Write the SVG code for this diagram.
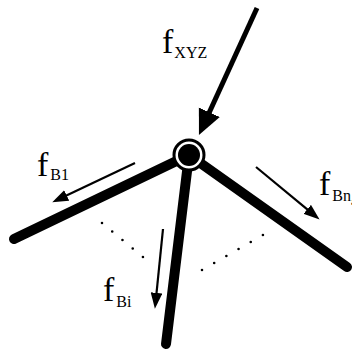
<svg xmlns="http://www.w3.org/2000/svg" width="352" height="352" viewBox="0 0 352 352">
<style>
.bar{stroke:#000;stroke-width:10;stroke-linecap:round;fill:none}
.big{stroke:#000;stroke-width:5;fill:none}
.thin{stroke:#000;stroke-width:2.2;fill:none}
.dots{stroke:#000;stroke-width:2.6;stroke-linecap:round;fill:none}
text{font-family:"Liberation Serif","DejaVu Serif",serif;font-size:34px;fill:#000}
.sub{font-size:16px}
.subsub{font-size:11px}
</style>
<defs>
<marker id="bigHead" markerUnits="userSpaceOnUse" markerWidth="26" markerHeight="24" refX="3" refY="11.5" orient="auto" viewBox="0 0 26 23">
<path d="M0,0 L25,11.5 L0,23 z" fill="#000"/>
</marker>
<marker id="smallHead" markerUnits="userSpaceOnUse" markerWidth="16" markerHeight="12" refX="3" refY="5.5" orient="auto" viewBox="0 0 15 11">
<path d="M0,0 L15,5.5 L0,11 z" fill="#000"/>
</marker>
</defs>
<rect width="352" height="352" fill="#fff"/>
<g id="connectors">
<line class="bar" x1="14" y1="239" x2="189" y2="155"/>
<line class="bar" x1="189" y1="155" x2="347" y2="267"/>
<line class="bar" x1="189" y1="155" x2="166" y2="344"/>
<line class="big" x1="257" y1="8" x2="208.1" y2="115" marker-end="url(#bigHead)"/>
<line class="thin" x1="135" y1="163" x2="63.8" y2="196.8" marker-end="url(#smallHead)"/>
<line class="thin" x1="256" y1="167" x2="309.7" y2="211.4" marker-end="url(#smallHead)"/>
<line class="thin" x1="163" y1="229" x2="156.2" y2="296.1" marker-end="url(#smallHead)"/>
<line class="dots" x1="102" y1="223" x2="143" y2="257" stroke-dasharray="0 13.3"/>
<line class="dots" x1="202" y1="270" x2="263" y2="235" stroke-dasharray="0 14.05"/>
</g>
<g id="node">
<circle cx="189" cy="155" r="15" fill="#fff" stroke="#000" stroke-width="3"/>
<circle cx="189" cy="155" r="11" fill="#000"/>
</g>
<g id="labels">
<text id="fXYZ" x="162" y="53">f<tspan class="sub" dy="5" dx="1">XYZ</tspan></text>
<text id="fB1" x="37" y="176">f<tspan class="sub" dy="4" dx="2">B1</tspan></text>
<text id="fBn" x="319" y="195">f<tspan class="sub" dy="6" dx="2">Bn</tspan><tspan class="subsub" dy="4">a</tspan></text>
<text id="fBi" x="103" y="301">f<tspan class="sub" dy="6" dx="2">Bi</tspan></text>
</g>
</svg>
